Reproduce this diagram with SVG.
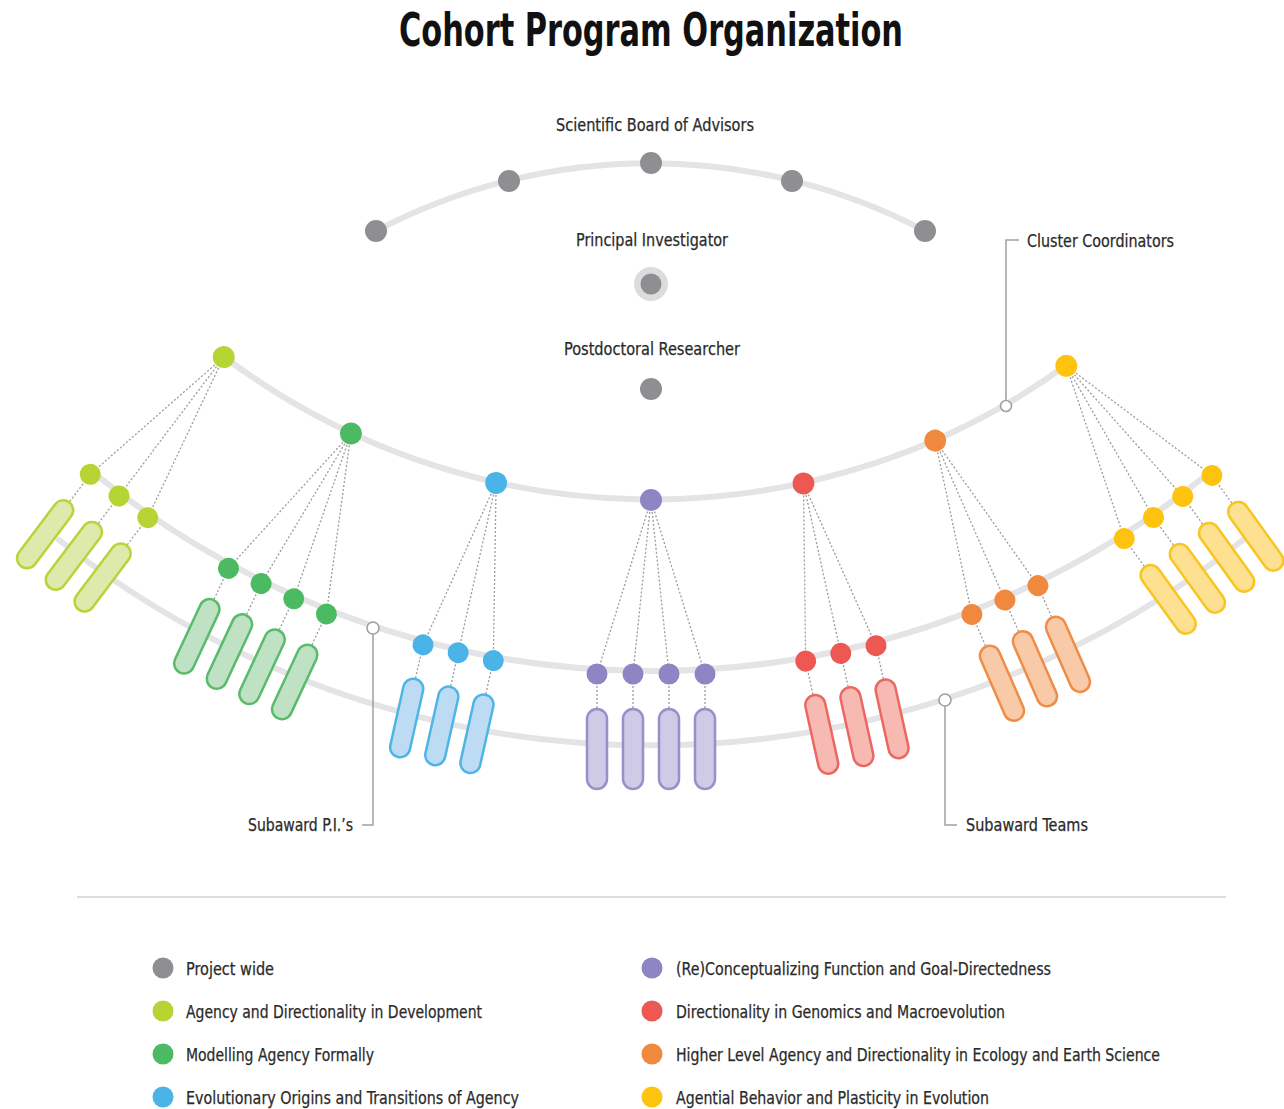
<svg xmlns="http://www.w3.org/2000/svg" width="1284" height="1109" viewBox="0 0 1284 1109">
<style>
.arc{fill:none;stroke:#e4e4e6;stroke-width:6;stroke-linecap:round}
.dl{fill:none;stroke:#9c9c9e;stroke-width:1.3;stroke-dasharray:2 2}
.lead{fill:none;stroke:#a0a0a2;stroke-width:1.5}
.hollow{fill:#fff;stroke:#a0a0a2;stroke-width:1.6}
.t{font-family:'DejaVu Sans Condensed','DejaVu Sans','Liberation Sans',sans-serif;font-stretch:condensed;fill:#2a2a2a;font-size:18px;stroke:#2a2a2a;stroke-width:0.25}
.title{font-family:'DejaVu Sans Condensed','DejaVu Sans','Liberation Sans',sans-serif;font-stretch:condensed;font-weight:bold;fill:#111;font-size:46px}
.gray{fill:#8f8f91}
.pill{stroke-width:2.5}
.lime .dot{fill:#b6d433}.lime .pill{fill:#dcebab;stroke:#b8d43a}
.green .dot{fill:#4cba62}.green .pill{fill:#bfe1c4;stroke:#58bc6a}
.blue .dot{fill:#4ab4e8}.blue .pill{fill:#bddcf3;stroke:#4fb4e6}
.purple .dot{fill:#8e86c4}.purple .pill{fill:#cfcae6;stroke:#9890c8}
.red .dot{fill:#ee5853}.red .pill{fill:#f6bab3;stroke:#ec6762}
.orange .dot{fill:#f0883e}.orange .pill{fill:#f9caa8;stroke:#ef8c48}
.yellow .dot{fill:#fdc30f}.yellow .pill{fill:#fde191;stroke:#f8c522}
</style>

<text class="title" x="651" y="46" text-anchor="middle" textLength="504" lengthAdjust="spacingAndGlyphs">Cohort Program Organization</text>

<g id="arcs">
<path class="arc" d="M376,231 A590,590 0 0 1 925,231"/>
<path class="arc" d="M223,356 A710,710 0 0 0 1068,364"/>
<path class="arc" d="M94,473 A884,884 0 0 0 1209,473"/>
<path class="arc" d="M59,540 A956,956 0 0 0 1243,540"/>
</g>

<g id="connectors">
<g transform="rotate(37 651 -210)">
<path class="dl" d="M651,500L615,674M651,500L651,674M651,500L687,674M615,674V708M651,674V708M687,674V708"/>
</g>
<g transform="rotate(25 651 -210)">
<path class="dl" d="M651,500L597,674M651,500L633,674M651,500L669,674M651,500L705,674M597,674V708M633,674V708M669,674V708M705,674V708"/>
</g>
<g transform="rotate(12.6 651 -210)">
<path class="dl" d="M651,500L615,674M651,500L651,674M651,500L687,674M615,674V708M651,674V708M687,674V708"/>
</g>
<g>
<path class="dl" d="M651,500L597,674M651,500L633,674M651,500L669,674M651,500L705,674M597,674V708M633,674V708M669,674V708M705,674V708"/>
</g>
<g transform="rotate(-12.4 651 -210)">
<path class="dl" d="M651,500L615,674M651,500L651,674M651,500L687,674M615,674V708M651,674V708M687,674V708"/>
</g>
<g transform="rotate(-23.6 651 -210)">
<path class="dl" d="M651,500L615,674M651,500L651,674M651,500L687,674M615,674V708M651,674V708M687,674V708"/>
</g>
<g transform="rotate(-35.8 651 -210)">
<path class="dl" d="M651,500L597,674M651,500L633,674M651,500L669,674M651,500L705,674M597,674V708M633,674V708M669,674V708M705,674V708"/>
</g>
<path class="lead" d="M1006,401V240H1019"/>
<path class="lead" d="M373,634V825H362"/>
<path class="lead" d="M945,706V825H957"/>
</g>

<g id="board">
<circle class="gray" cx="376" cy="231" r="11"/>
<circle class="gray" cx="509" cy="181" r="11"/>
<circle class="gray" cx="651" cy="163" r="11"/>
<circle class="gray" cx="792" cy="181" r="11"/>
<circle class="gray" cx="925" cy="231" r="11"/>
<text class="t" x="655" y="131" text-anchor="middle" textLength="198" lengthAdjust="spacingAndGlyphs">Scientific Board of Advisors</text>
</g>
<g id="pi">
<circle cx="651" cy="284" r="17" fill="#dcdcde"/>
<circle class="gray" cx="651" cy="284" r="10.5"/>
<text class="t" x="652" y="246" text-anchor="middle" textLength="152" lengthAdjust="spacingAndGlyphs">Principal Investigator</text>
</g>
<g id="postdoc">
<circle class="gray" cx="651" cy="389" r="11"/>
<text class="t" x="652" y="355" text-anchor="middle" textLength="176" lengthAdjust="spacingAndGlyphs">Postdoctoral Researcher</text>
</g>

<g id="cluster-development" class="lime" transform="rotate(37 651 -210)">
<circle class="dot" cx="651" cy="500" r="11"/>
<circle class="dot" cx="615" cy="674" r="10.5"/><circle class="dot" cx="651" cy="674" r="10.5"/><circle class="dot" cx="687" cy="674" r="10.5"/>
<rect class="pill" x="605" y="709" width="20" height="80" rx="10"/><rect class="pill" x="641" y="709" width="20" height="80" rx="10"/><rect class="pill" x="677" y="709" width="20" height="80" rx="10"/>
</g>
<g id="cluster-modelling" class="green" transform="rotate(25 651 -210)">
<circle class="dot" cx="651" cy="500" r="11"/>
<circle class="dot" cx="597" cy="674" r="10.5"/><circle class="dot" cx="633" cy="674" r="10.5"/><circle class="dot" cx="669" cy="674" r="10.5"/><circle class="dot" cx="705" cy="674" r="10.5"/>
<rect class="pill" x="587" y="709" width="20" height="80" rx="10"/><rect class="pill" x="623" y="709" width="20" height="80" rx="10"/><rect class="pill" x="659" y="709" width="20" height="80" rx="10"/><rect class="pill" x="695" y="709" width="20" height="80" rx="10"/>
</g>
<g id="cluster-origins" class="blue" transform="rotate(12.6 651 -210)">
<circle class="dot" cx="651" cy="500" r="11"/>
<circle class="dot" cx="615" cy="674" r="10.5"/><circle class="dot" cx="651" cy="674" r="10.5"/><circle class="dot" cx="687" cy="674" r="10.5"/>
<rect class="pill" x="605" y="709" width="20" height="80" rx="10"/><rect class="pill" x="641" y="709" width="20" height="80" rx="10"/><rect class="pill" x="677" y="709" width="20" height="80" rx="10"/>
</g>
<g id="cluster-function" class="purple">
<circle class="dot" cx="651" cy="500" r="11"/>
<circle class="dot" cx="597" cy="674" r="10.5"/><circle class="dot" cx="633" cy="674" r="10.5"/><circle class="dot" cx="669" cy="674" r="10.5"/><circle class="dot" cx="705" cy="674" r="10.5"/>
<rect class="pill" x="587" y="709" width="20" height="80" rx="10"/><rect class="pill" x="623" y="709" width="20" height="80" rx="10"/><rect class="pill" x="659" y="709" width="20" height="80" rx="10"/><rect class="pill" x="695" y="709" width="20" height="80" rx="10"/>
</g>
<g id="cluster-genomics" class="red" transform="rotate(-12.4 651 -210)">
<circle class="dot" cx="651" cy="500" r="11"/>
<circle class="dot" cx="615" cy="674" r="10.5"/><circle class="dot" cx="651" cy="674" r="10.5"/><circle class="dot" cx="687" cy="674" r="10.5"/>
<rect class="pill" x="605" y="709" width="20" height="80" rx="10"/><rect class="pill" x="641" y="709" width="20" height="80" rx="10"/><rect class="pill" x="677" y="709" width="20" height="80" rx="10"/>
</g>
<g id="cluster-ecology" class="orange" transform="rotate(-23.6 651 -210)">
<circle class="dot" cx="651" cy="500" r="11"/>
<circle class="dot" cx="615" cy="674" r="10.5"/><circle class="dot" cx="651" cy="674" r="10.5"/><circle class="dot" cx="687" cy="674" r="10.5"/>
<rect class="pill" x="605" y="709" width="20" height="80" rx="10"/><rect class="pill" x="641" y="709" width="20" height="80" rx="10"/><rect class="pill" x="677" y="709" width="20" height="80" rx="10"/>
</g>
<g id="cluster-behavior" class="yellow" transform="rotate(-35.8 651 -210)">
<circle class="dot" cx="651" cy="500" r="11"/>
<circle class="dot" cx="597" cy="674" r="10.5"/><circle class="dot" cx="633" cy="674" r="10.5"/><circle class="dot" cx="669" cy="674" r="10.5"/><circle class="dot" cx="705" cy="674" r="10.5"/>
<rect class="pill" x="587" y="709" width="20" height="80" rx="10"/><rect class="pill" x="623" y="709" width="20" height="80" rx="10"/><rect class="pill" x="659" y="709" width="20" height="80" rx="10"/><rect class="pill" x="695" y="709" width="20" height="80" rx="10"/>
</g>

<g id="label-coordinators">
<circle class="hollow" cx="1006" cy="406" r="5.5"/>
<text class="t" x="1027" y="247" textLength="147" lengthAdjust="spacingAndGlyphs">Cluster Coordinators</text>
</g>
<g id="label-subpis">
<circle class="hollow" cx="373" cy="628" r="6"/>
<text class="t" x="248" y="831" textLength="105" lengthAdjust="spacingAndGlyphs">Subaward P.I.’s</text>
</g>
<g id="label-teams">
<circle class="hollow" cx="945" cy="700" r="6"/>
<text class="t" x="966" y="831" textLength="122" lengthAdjust="spacingAndGlyphs">Subaward Teams</text>
</g>

<line x1="77" y1="897" x2="1226" y2="897" stroke="#d2d2d4" stroke-width="1.5"/>

<g id="legend">
<circle cx="163" cy="968" r="10.5" fill="#8f8f91"/><text class="t" x="186" y="975" textLength="88" lengthAdjust="spacingAndGlyphs">Project wide</text>
<circle cx="163" cy="1011" r="10.5" fill="#b6d433"/><text class="t" x="186" y="1018" textLength="296" lengthAdjust="spacingAndGlyphs">Agency and Directionality in Development</text>
<circle cx="163" cy="1054" r="10.5" fill="#4cba62"/><text class="t" x="186" y="1061" textLength="188" lengthAdjust="spacingAndGlyphs">Modelling Agency Formally</text>
<circle cx="163" cy="1097" r="10.5" fill="#4ab4e8"/><text class="t" x="186" y="1104" textLength="333" lengthAdjust="spacingAndGlyphs">Evolutionary Origins and Transitions of Agency</text>
<circle cx="652" cy="968" r="10.5" fill="#8e86c4"/><text class="t" x="676" y="975" textLength="375" lengthAdjust="spacingAndGlyphs">(Re)Conceptualizing Function and Goal-Directedness</text>
<circle cx="652" cy="1011" r="10.5" fill="#ee5853"/><text class="t" x="676" y="1018" textLength="329" lengthAdjust="spacingAndGlyphs">Directionality in Genomics and Macroevolution</text>
<circle cx="652" cy="1054" r="10.5" fill="#f0883e"/><text class="t" x="676" y="1061" textLength="484" lengthAdjust="spacingAndGlyphs">Higher Level Agency and Directionality in Ecology and Earth Science</text>
<circle cx="652" cy="1097" r="10.5" fill="#fdc30f"/><text class="t" x="676" y="1104" textLength="313" lengthAdjust="spacingAndGlyphs">Agential Behavior and Plasticity in Evolution</text>
</g>
</svg>
